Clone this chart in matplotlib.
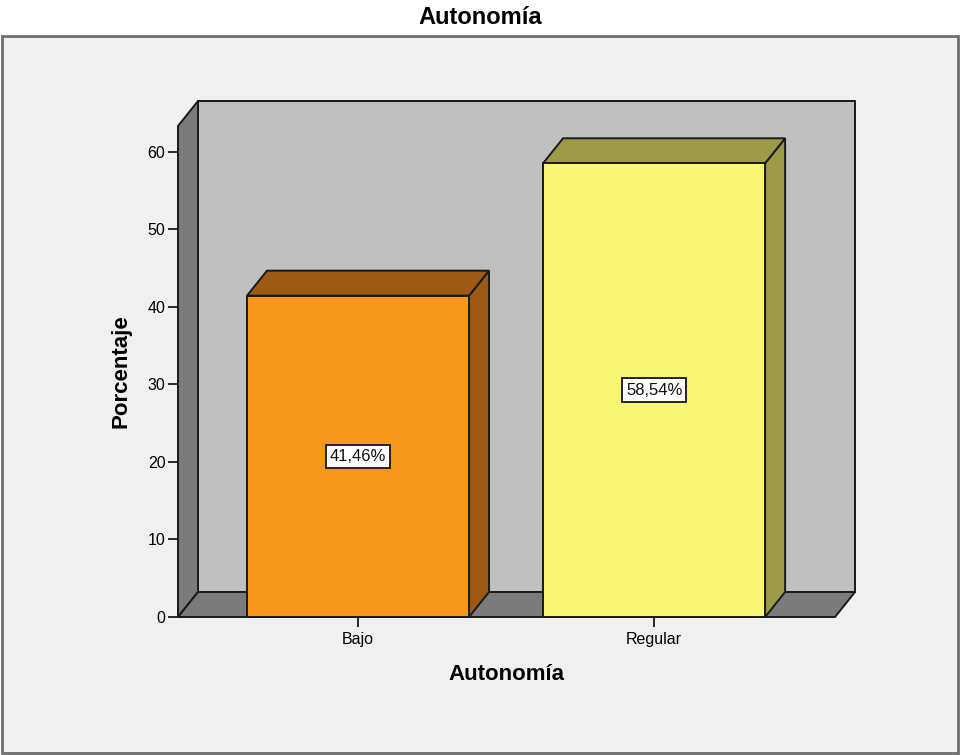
import matplotlib
matplotlib.use("Agg")
import matplotlib.pyplot as plt
from matplotlib.patches import Polygon, Rectangle

# Data
categories = ["Bajo", "Regular"]
percentages = [41.46, 58.54]
value_labels = ["41,46%", "58,54%"]
yticks = [0, 10, 20, 30, 40, 50, 60]

front_colors = ["#f7981e", "#f9f575"]
shade_colors = ["#9c5a14", "#9c9a48"]

plt.rcParams["font.family"] = ["Liberation Sans", "DejaVu Sans"]

W, H, DPI = 960, 755, 100
fig = plt.figure(figsize=(W / DPI, H / DPI), dpi=DPI)
fig.patch.set_facecolor("white")

# Outer chart frame (drawn beneath the plot)
fig.patches.append(Rectangle((2 / W, 2 / H), 956 / W, 717 / H,
                             transform=fig.transFigure, facecolor="#f0f0f0",
                             edgecolor="#6e6e6e", linewidth=2, zorder=-10))

# Axes cover the front plane of the 3D box
x0_px, x1_px, yb_px, yt_px = 178, 835, 617, 126
ax = fig.add_axes([x0_px / W, (H - yb_px) / H, (x1_px - x0_px) / W, (yb_px - yt_px) / H])
ax.set_zorder(1)
ax.set_facecolor("none")
for s in ax.spines.values():
    s.set_visible(False)

xlim = (-0.608, 1.611)
ylim = (0, 63.35)
ax.set_xlim(*xlim)
ax.set_ylim(*ylim)

# Depth offset of the box, in data units
px_per_x = (x1_px - x0_px) / (xlim[1] - xlim[0])
px_per_y = (yb_px - yt_px) / (ylim[1] - ylim[0])
dx = 20 / px_per_x
dy = 25 / px_per_y

edge = dict(edgecolor="#1a1a1a", linewidth=1.4, joinstyle="miter")
xa, xb = xlim
yt = ylim[1]

# Back wall
ax.add_patch(Polygon([(xa + dx, dy), (xb + dx, dy), (xb + dx, yt + dy), (xa + dx, yt + dy)],
                     closed=True, facecolor="#c0c0c0", clip_on=False, zorder=1, **edge))
# Left wall
ax.add_patch(Polygon([(xa, 0), (xa + dx, dy), (xa + dx, yt + dy), (xa, yt)],
                     closed=True, facecolor="#7b7b7b", clip_on=False, zorder=1, **edge))
# Floor
ax.add_patch(Polygon([(xa, 0), (xb, 0), (xb + dx, dy), (xa + dx, dy)],
                     closed=True, facecolor="#7b7b7b", clip_on=False, zorder=1, **edge))

# Bars
width = 0.75
for i, (v, fc, sc, lab) in enumerate(zip(percentages, front_colors, shade_colors, value_labels)):
    xl, xr = i - width / 2, i + width / 2
    ax.add_patch(Polygon([(xr, 0), (xr + dx, dy), (xr + dx, v + dy), (xr, v)],
                         closed=True, facecolor=sc, clip_on=False, zorder=2, **edge))
    ax.add_patch(Polygon([(xl, v), (xr, v), (xr + dx, v + dy), (xl + dx, v + dy)],
                         closed=True, facecolor=sc, clip_on=False, zorder=2, **edge))
    ax.add_patch(Polygon([(xl, 0), (xr, 0), (xr, v), (xl, v)],
                         closed=True, facecolor=fc, clip_on=False, zorder=3, **edge))
    ax.text(i, v / 2, lab, ha="center", va="center", fontsize=12, color="#111111", zorder=4,
            bbox=dict(boxstyle="square,pad=0.25", facecolor="white", edgecolor="#222222", linewidth=1.4))

# Axes ticks and labels
ax.set_yticks(yticks)
ax.set_yticklabels([str(t) for t in yticks])
ax.set_xticks(range(len(categories)))
ax.set_xticklabels(categories)
ax.tick_params(axis="y", length=7, width=1.3, color="#1a1a1a", labelsize=11.5, pad=2)
ax.tick_params(axis="x", length=7, width=1.3, color="#1a1a1a", labelsize=11.5, pad=4)

ax.set_ylabel("Porcentaje", fontsize=16, fontweight="bold")
ax.yaxis.set_label_coords(-0.087, 0.5)
ax.set_xlabel("Autonomía", fontsize=16, fontweight="bold")
ax.xaxis.set_label_coords(0.5, -0.118)
ax.xaxis.label.set_va("center")
ax.yaxis.label.set_va("center")

fig.text(0.5, 1 - 17 / H, "Autonomía", ha="center", va="center", fontsize=17, fontweight="bold")

fig.savefig("out.png", dpi=DPI)
